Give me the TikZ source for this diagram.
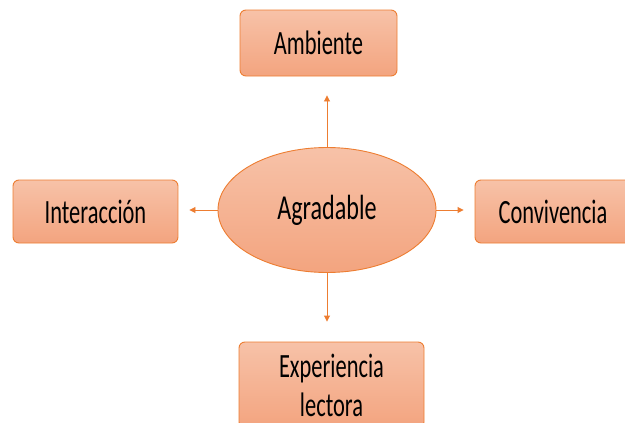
\documentclass[tikz,border=0pt]{standalone}
\usepackage{fontspec}
\setmainfont{Carlito}
\usepackage{graphicx}
\usetikzlibrary{shapes.geometric,arrows.meta}
\definecolor{edge}{HTML}{ED7D31}
\definecolor{lite}{HTML}{F7C2A8}
\definecolor{deep}{HTML}{F3A47F}
\newcommand{\narrow}[1]{\scalebox{0.66}[1]{#1}}

\begin{document}
\begin{tikzpicture}[x=1pt,y=-1pt,
  box/.style={draw=edge,line width=0.9pt,rounded corners=6pt,top color=lite,bottom color=deep,
    inner sep=0pt,align=center,font=\fontsize{34}{39}\selectfont},
  blob/.style={ellipse,draw=edge,line width=0.9pt,top color=lite,bottom color=deep,
    inner sep=0pt,minimum width=218pt,minimum height=125pt,font=\fontsize{35}{41}\selectfont},
  link/.style={draw=edge,line width=0.9pt,-{Triangle[length=6pt,width=6pt]}}]
\useasboundingbox (0,0) rectangle (625,423);
\clip (0,0) rectangle (625,423);
\node[blob] (ag) at (327,210) {\scalebox{0.69}[1]{Agradable}};
\node[box,minimum width=157pt,minimum height=66pt] (amb) at (318.5,43) {\narrow{Ambiente}};
\node[box,minimum width=165pt,minimum height=63pt] (inter) at (95.5,211.5) {\narrow{Interacción}};
\node[box,minimum width=156pt,minimum height=63pt] (conv) at (553,211.5) {\narrow{Convivencia}};
\node[box,minimum width=185pt,minimum height=86pt] (exp) at (331.5,385) {\narrow{Experiencia}\\\narrow{lectora}};
\draw[link,shorten >=19pt] (ag.north) -- (ag.north |- amb.south);
\draw[link,shorten >=11pt] (ag.west) -- (ag.west -| inter.east);
\draw[link,shorten >=11pt] (ag.east) -- (ag.east -| conv.west);
\draw[link,shorten >=20pt] (ag.south) -- (ag.south |- exp.north);
\end{tikzpicture}
\end{document}
